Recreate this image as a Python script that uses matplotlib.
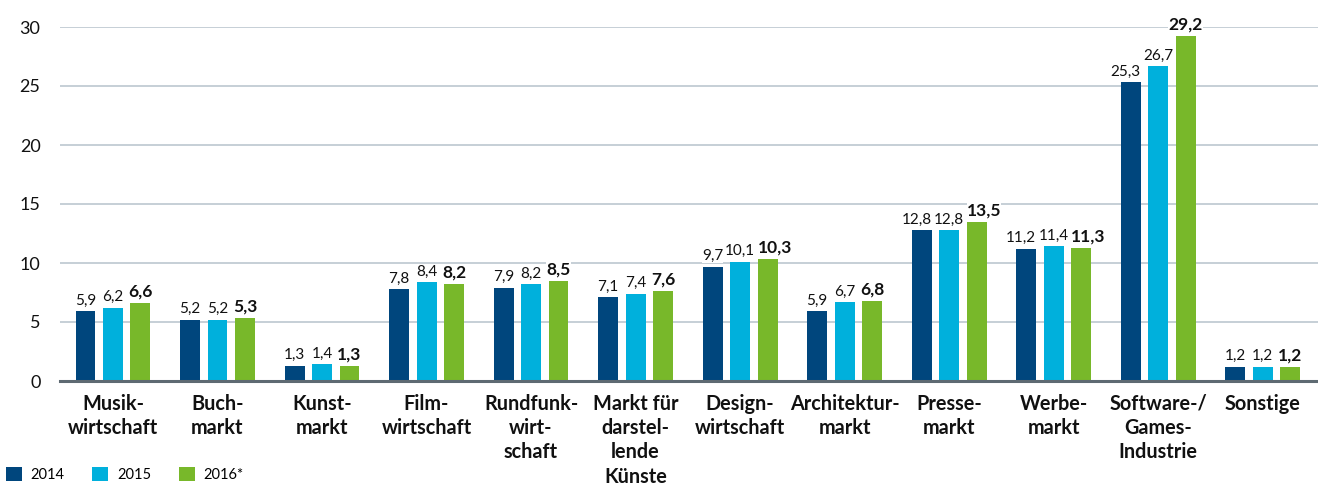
import matplotlib
matplotlib.use("Agg")
import matplotlib.pyplot as plt
import numpy as np
from matplotlib.patches import Patch

plt.rcParams['font.family'] = ['Lato', 'DejaVu Sans']

categories = ["Musik-\nwirtschaft", "Buch-\nmarkt", "Kunst-\nmarkt", "Film-\nwirtschaft",
              "Rundfunk-\nwirt-\nschaft", "Markt für\ndarstel-\nlende\nKünste",
              "Design-\nwirtschaft", "Architektur-\nmarkt", "Presse-\nmarkt",
              "Werbe-\nmarkt", "Software-/\nGames-\nIndustrie", "Sonstige"]
v2014 = [5.9, 5.2, 1.3, 7.8, 7.9, 7.1, 9.7, 5.9, 12.8, 11.2, 25.3, 1.2]
v2015 = [6.2, 5.2, 1.4, 8.4, 8.2, 7.4, 10.1, 6.7, 12.8, 11.4, 26.7, 1.2]
v2016 = [6.6, 5.3, 1.3, 8.2, 8.5, 7.6, 10.3, 6.8, 13.5, 11.3, 29.2, 1.2]
series_names = ["2014", "2015", "2016*"]
colors = ["#00467d", "#00b0dc", "#78b82a"]

fig = plt.figure(figsize=(13.18, 4.88), dpi=100)
ax = fig.add_axes([60/1318, 107/488, 1 - 60/1318, 354/488])

x = np.arange(len(categories))
w = 0.191
off = 0.263
allvals = [v2014, v2015, v2016]
for i, (vals, c) in enumerate(zip(allvals, colors)):
    pos = x + (i - 1) * off
    ax.bar(pos, vals, width=w, color=c, zorder=2)
    for k, (xp, v) in enumerate(zip(pos, vals)):
        txt = f"{v:.1f}".replace(".", ",")
        # wide labels get pushed sideways, like in the original
        ha, xa = "center", xp
        if i == 0 and v >= 10:
            ha, xa = "right", xp + w / 2
        if i == 2 and v2015[k] >= 10 and v - v2015[k] < 2:
            ha, xa = "left", xp - w / 2
        if i == 2:
            ax.annotate(txt, (xa, v), xytext=(0, 2.5), textcoords="offset points",
                        ha=ha, va="bottom", fontsize=12.5, fontweight="bold",
                        color="#111111", zorder=4,
                        bbox=dict(facecolor="white", edgecolor="none", pad=0))
        else:
            ax.annotate(txt, (xa, v), xytext=(0, 2.5), textcoords="offset points",
                        ha=ha, va="bottom", fontsize=11, color="#111111",
                        zorder=4, bbox=dict(facecolor="white", edgecolor="none", pad=0))

ax.set_xlim(-0.507, 11.53)
ax.set_ylim(0, 30)
ax.set_yticks(range(0, 31, 5))
ax.tick_params(axis="y", length=0, pad=14, labelsize=13, labelcolor="#111111")
ax.set_xticks(x, categories)
ax.tick_params(axis="x", length=0, pad=9)
for lab in ax.get_xticklabels():
    lab.set_fontsize(14.3)
    lab.set_fontweight("bold")
    lab.set_linespacing(1.28)
    lab.set_color("#111111")

ax.yaxis.grid(True, color="#bcc7cf", linewidth=1.2, zorder=0)
ax.set_axisbelow(True)
for s in ["top", "right", "left"]:
    ax.spines[s].set_visible(False)
ax.spines["bottom"].set_color("#5e6a72")
ax.spines["bottom"].set_linewidth(2.2)
ax.spines["bottom"].set_zorder(3)

handles = [Patch(facecolor=c, edgecolor="none") for c in colors]
fig.legend(handles, series_names, loc="lower left", bbox_to_anchor=(0.0, 0.0),
           ncol=3, frameon=False, fontsize=10.5, handlelength=1.1, handleheight=1.1,
           handletextpad=0.6, columnspacing=1.9, borderaxespad=0.2, borderpad=0.2)

fig.savefig("out.png", dpi=100)
